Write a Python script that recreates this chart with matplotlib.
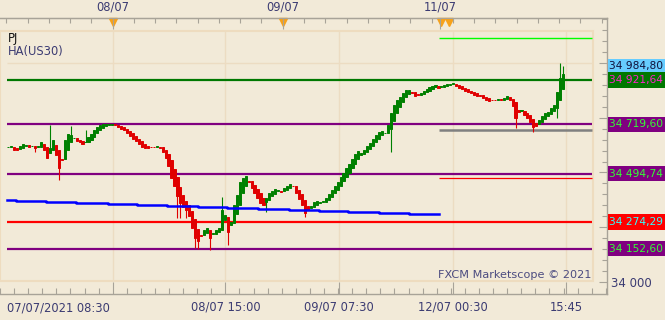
import matplotlib
matplotlib.use('Agg')
import matplotlib.pyplot as plt
import matplotlib.transforms as mtransforms
from matplotlib.patches import Rectangle
import numpy as np

# Heikin-Ashi closes, one per bar (US30)
close = [34616, 34621, 34603, 34603, 34621, 34630, 34626, 34616, 34621, 34612,
         34621, 34639, 34603, 34566, 34612, 34648, 34580, 34521, 34557, 34648,
         34676, 34671, 34658, 34644, 34639, 34630, 34639, 34662, 34676, 34694,
         34708, 34717, 34721, 34721, 34721, 34721, 34717, 34708, 34699, 34694,
         34680, 34667, 34653, 34644, 34630, 34616, 34612, 34612, 34616, 34616,
         34621, 34612, 34594, 34566, 34530, 34475, 34438, 34393, 34361, 34342,
         34329, 34301, 34247, 34201, 34187, 34210, 34237, 34247, 34201, 34224,
         34237, 34247, 34329, 34306, 34228, 34274, 34352, 34397, 34457, 34475,
         34484, 34457, 34429, 34406, 34384, 34361, 34352, 34384, 34406, 34416,
         34425, 34420, 34411, 34429, 34438, 34447, 34438, 34406, 34379, 34352,
         34315, 34329, 34347, 34365, 34370, 34365, 34370, 34384, 34402, 34420,
         34438, 34457, 34479, 34498, 34521, 34539, 34562, 34584, 34598, 34589,
         34603, 34621, 34635, 34653, 34671, 34685, 34690, 34680, 34717, 34772,
         34808, 34831, 34845, 34863, 34877, 34877, 34863, 34849, 34854, 34863,
         34872, 34881, 34890, 34895, 34900, 34886, 34895, 34900, 34904, 34904,
         34909, 34895, 34886, 34881, 34872, 34868, 34863, 34854, 34849, 34849,
         34840, 34831, 34826, 34831, 34831, 34836, 34831, 34840, 34849, 34831,
         34804, 34749, 34776, 34785, 34763, 34749, 34731, 34708, 34712, 34740,
         34758, 34772, 34776, 34794, 34808, 34868, 34931, 34950]

# long wicks (bar index, extreme price)
wick_idx = [9, 14, 17, 21, 26, 57, 58, 60, 62, 63, 64, 68, 72, 74, 87, 100,
            129, 171, 177, 185, 186, 187]
wick_px = [34594, 34717, 34466, 34712, 34694, 34292, 34292, 34292, 34260, 34155,
           34150, 34146, 34388, 34169, 34319, 34297, 34594, 34703, 34685, 34749,
           35000, 34988]

# stepped blue average
ma_edges = [-0.5, 2.5, 12.8, 22.8, 33.5, 43.5, 53.5, 63.8, 73.8, 84.2, 94.5,
            104.8, 114.5, 124.8, 135.2, 145.2]
ma_vals = [34376, 34370, 34365, 34361, 34356, 34353, 34348, 34342, 34338, 34333,
           34329, 34324, 34321, 34316, 34312]

levels = [34921.64, 34719.60, 34494.74, 34274.29, 34152.60]
level_cols = ['#007800', '#800080', '#800080', '#ff0000', '#800080']

short_levels = [35114, 34694, 34475]
short_cols = ['#00ff00', '#808080', '#ff0000']
short_lw = [1.0, 1.8, 0.9]

box_vals = [34984.80, 34921.64, 34719.60, 34494.74, 34274.29, 34152.60]
box_text = ['34 984,80', '34 921,64', '34 719,60', '34 494,74', '34 274,29', '34 152,60']
box_bg = ['#66ccff', '#007800', '#800080', '#800080', '#ff0000', '#800080']
box_fg = ['#10103a', '#ff22cc', '#33ff33', '#33ff33', '#33ffff', '#33ff33']

bot_ticks = [35.17, 73.17, 111.5, 149.83, 188.17]
bot_labels = ['', '08/07 15:00', '09/07 07:30', '12/07 00:30', '15:45']
first_label = '07/07/2021 08:30'
top_ticks = [35.17, 92.5, 145.5]
top_labels = ['08/07', '09/07', '11/07']
events = [35.2, 92.5, 145.8, 148.5]

BG = '#f2ead8'
TICK = '#a8a398'
LBL = '#3b3b72'

fig = plt.figure(figsize=(6.65, 3.2), dpi=100, facecolor=BG)
ax = fig.add_axes([0, 26/320, 607/665, 276/320], facecolor=BG)
ax.set_xlim(-0.5, 201.83)
ax.set_ylim(33945.2, 35205.4)

# panel border and grid
ax.add_patch(Rectangle((0.0, 13/276), 593/607, 250/276, transform=ax.transAxes,
                       fill=False, edgecolor='#eedcbf', lw=1.5, zorder=0))
ax.vlines(bot_ticks, 34005, 35146, color='#ecdcc2', lw=1, zorder=0)
ax.hlines([35000], -0.5, 196.8, color='#ecdcc2', lw=1, zorder=0)

# Heikin-Ashi bars
close = np.array(close, dtype=float)
ha_open = np.empty_like(close)
ha_open[0] = close[0]
for i in range(1, len(close)):
    ha_open[i] = (ha_open[i-1] + close[i-1]) / 2
idx = np.arange(len(close))
up = close >= ha_open
cols = np.where(up, '#008000', '#e00000')
lo = np.minimum(close, ha_open)
hi = np.maximum(close, ha_open)
ax.bar(idx, hi - lo, bottom=lo, width=0.72, color=cols, edgecolor=cols,
       linewidth=0.7, zorder=3)
for k, p in zip(wick_idx, wick_px):
    ax.vlines(k, min(p, lo[k]), max(p, hi[k]), color=cols[k], lw=0.8, zorder=3)

# levels
for v, c in zip(levels, level_cols):
    ax.hlines(v, -0.5, 196.8, color=c, lw=1.6, zorder=2)
for v, c, w in zip(short_levels, short_cols, short_lw):
    ax.hlines(v, 145.2, 196.8, color=c, lw=w, zorder=2)
ax.step(ma_edges, ma_vals + [ma_vals[-1]], where='post', color='#0000ff',
        lw=1.8, zorder=4)

# axes styling
ax.spines['left'].set_visible(False)
for s in ['bottom', 'top', 'right']:
    ax.spines[s].set_color(TICK)
    ax.spines[s].set_linewidth(1)

ax.set_xticks(bot_ticks, bot_labels)
step = (bot_ticks[1] - bot_ticks[0]) / 8
ax.set_xticks(np.arange(bot_ticks[0] - 8 * step, 201.8, step), minor=True)
ax.tick_params(axis='x', which='both', direction='in', colors=TICK,
               labelcolor=LBL, labelsize=8.3, pad=5, width=0.8)
ax.tick_params(axis='x', which='major', length=9)
ax.tick_params(axis='x', which='minor', length=4.3)
xblend = mtransforms.blended_transform_factory(ax.transData, ax.transAxes)
ax.text(-0.5, -0.049, first_label, transform=xblend, ha='left', va='center',
        fontsize=8.3, color=LBL)

ax.yaxis.tick_right()
ax.set_yticks([34000, 34250, 34500, 34750, 35000], ['34 000', '', '', '', ''])
ax.set_yticks(np.arange(34000, 35201, 50), minor=True)
ax.tick_params(axis='y', which='both', direction='in', colors=TICK,
               labelcolor=LBL, labelsize=8.5, pad=3, width=0.8)
ax.tick_params(axis='y', which='major', length=6)
ax.tick_params(axis='y', which='minor', length=3.5)

ax2 = ax.twiny()
ax2.set_xlim(ax.get_xlim())
ax2.set_xticks(top_ticks, top_labels)
tstep = (top_ticks[1] - top_ticks[0]) / 8
ax2.set_xticks(np.arange(top_ticks[0] - 5 * tstep, 201.8, tstep), minor=True)
ax2.tick_params(axis='x', which='both', direction='in', colors=TICK,
                labelcolor=LBL, labelsize=8.3, pad=3, width=0.8)
ax2.tick_params(axis='x', which='major', length=8)
ax2.tick_params(axis='x', which='minor', length=3.8)
for s in ['left', 'right', 'bottom']:
    ax2.spines[s].set_visible(False)
ax2.spines['top'].set_color(TICK)

ax.plot(events, [0.984] * len(events), 'v', color='#f7a21b', ms=6,
        transform=xblend, clip_on=False, zorder=6)

# price boxes on the right
yblend = mtransforms.blended_transform_factory(ax.transAxes, ax.transData)
for v, t, bg, fg in zip(box_vals, box_text, box_bg, box_fg):
    ax.add_patch(Rectangle((1.0015, v - 35), 0.2, 70, transform=yblend,
                           facecolor=bg, edgecolor='none', clip_on=False, zorder=7))
    ax.text(1.0035, v, t, transform=yblend, ha='left', va='center', fontsize=7.7,
            color=fg, clip_on=False, zorder=8)

ax.text(8/607, 0.924, 'PJ', transform=ax.transAxes, fontsize=8.3, color='#111111',
        va='center')
ax.text(8/607, 0.877, 'HA(US30)', transform=ax.transAxes, fontsize=8.3, color=LBL,
        va='center')
ax.text(591/607, 0.069, 'FXCM Marketscope \u00a9 2021', transform=ax.transAxes,
        fontsize=8.1, color='#4b4b80', ha='right', va='center')

fig.savefig('out.png', dpi=100, facecolor=BG)
